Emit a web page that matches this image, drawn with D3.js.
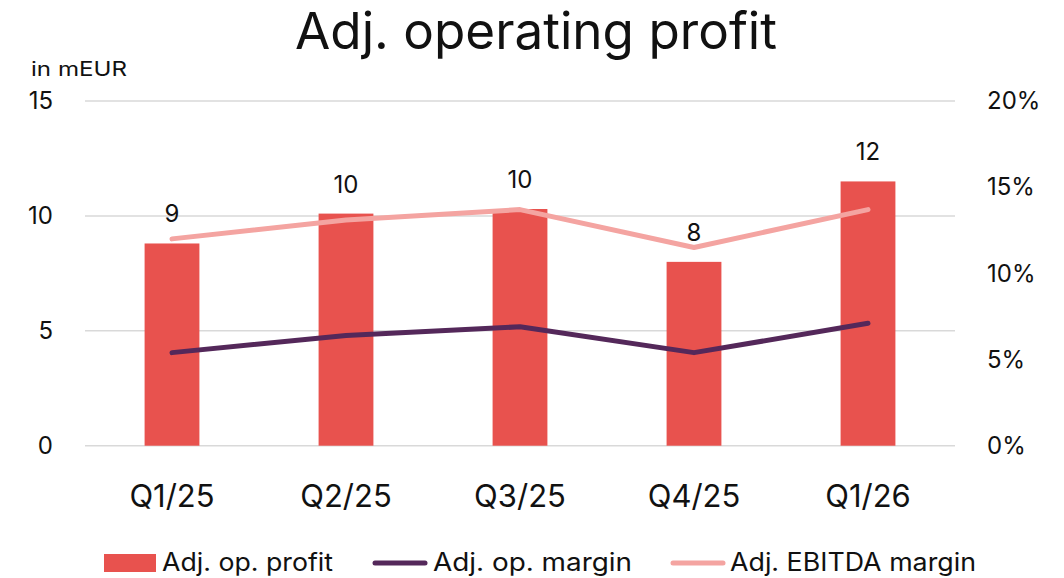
<!DOCTYPE html>
<html>
<head>
<meta charset="utf-8">
<script src="https://cdn.jsdelivr.net/npm/d3@7"></script>
<style>
  html, body { margin: 0; padding: 0; background: #fff; }
  svg { display: block; font-family: Inter, "Noto Sans", sans-serif; }
</style>
</head>
<body>
<svg id="chart" width="1064" height="578"></svg>
<script>
const categories = ["Q1/25", "Q2/25", "Q3/25", "Q4/25", "Q1/26"];
const opProfit = [8.8, 10.1, 10.3, 8.0, 11.5];
const opMargin = [5.4, 6.4, 6.9, 5.4, 7.1];
const ebitdaMargin = [12.0, 13.1, 13.7, 11.5, 13.7];
const leftTicks = [0, 5, 10, 15];
const rightTicks = [0, 5, 10, 15, 20];
const seriesNames = ["Adj. op. profit", "Adj. op. margin", "Adj. EBITDA margin"];
const title = "Adj. operating profit";
const unitLabel = "in mEUR";

const colors = { bar: "#E8524E", op: "#54285A", ebitda: "#F4A4A1", grid: "#d9d9d9", text: "#111" };

const svg = d3.select("#chart");
const plot = { left: 85, right: 955, top: 101, bottom: 445.7 };

const x = d3.scaleBand().domain(categories).range([plot.left, plot.right]).paddingInner(0.685).paddingOuter(0.3425);
const yL = d3.scaleLinear().domain([0, 15]).range([plot.bottom, plot.top]);
const yR = d3.scaleLinear().domain([0, 20]).range([plot.bottom, plot.top]);

// gridlines
svg.append("g").selectAll("line").data(leftTicks).join("line")
  .attr("x1", plot.left).attr("x2", plot.right)
  .attr("y1", d => yL(d)).attr("y2", d => yL(d))
  .attr("stroke", colors.grid).attr("stroke-width", 1.5);

// left axis
const axL = svg.append("g").attr("transform", `translate(${plot.left - 32},0)`)
  .call(d3.axisLeft(yL).tickValues(leftTicks).tickSize(0).tickPadding(0));
axL.select(".domain").remove();
axL.selectAll("text").attr("font-size", 24).attr("fill", colors.text).style("font-family", "Inter");

// right axis
const axR = svg.append("g").attr("transform", `translate(${plot.right + 32},0)`)
  .call(d3.axisRight(yR).tickValues(rightTicks).tickFormat(d => d + "%").tickSize(0).tickPadding(0));
axR.select(".domain").remove();
axR.selectAll("text").attr("font-size", 24).attr("fill", colors.text).style("font-family", "Inter");

// x axis
const axX = svg.append("g").attr("transform", `translate(0,${plot.bottom + 33})`)
  .call(d3.axisBottom(x).tickSize(0).tickPadding(0));
axX.select(".domain").remove();
axX.selectAll("text").attr("font-size", 31).attr("fill", colors.text).style("font-family", "Inter")
  .attr("dy", "0.9em");

// bars
svg.append("g").selectAll("rect").data(opProfit).join("rect")
  .attr("x", (d, i) => x(categories[i]))
  .attr("width", x.bandwidth())
  .attr("y", d => yL(d))
  .attr("height", d => yL(0) - yL(d))
  .attr("fill", colors.bar);

// lines
const cx = i => x(categories[i]) + x.bandwidth() / 2;
const lineGen = d3.line().x((d, i) => cx(i)).y(d => yR(d));
svg.append("path").datum(ebitdaMargin).attr("d", lineGen)
  .attr("fill", "none").attr("stroke", colors.ebitda).attr("stroke-width", 5)
  .attr("stroke-linecap", "round").attr("stroke-linejoin", "round");
svg.append("path").datum(opMargin).attr("d", lineGen)
  .attr("fill", "none").attr("stroke", colors.op).attr("stroke-width", 5)
  .attr("stroke-linecap", "round").attr("stroke-linejoin", "round");

// data labels
svg.append("g").selectAll("text").data(opProfit).join("text")
  .attr("x", (d, i) => cx(i))
  .attr("y", d => yL(d) - 21)
  .attr("text-anchor", "middle")
  .attr("font-size", 24).attr("fill", colors.text)
  .text(d => Math.round(d));

// title
svg.append("text").attr("x", 536).attr("y", 48.5).attr("text-anchor", "middle")
  .attr("font-size", 51).attr("fill", colors.text)
  .attr("textLength", 482).attr("lengthAdjust", "spacingAndGlyphs").text(title);

// unit label
svg.append("text").attr("x", 31).attr("y", 76).attr("font-size", 20).attr("fill", colors.text)
  .attr("textLength", 96).attr("lengthAdjust", "spacingAndGlyphs").text(unitLabel);

// legend
const lg = svg.append("g");
const legendItems = [
  { name: seriesNames[0], type: "rect", color: colors.bar, x: 104, w: 52, tx: 162, tw: 171 },
  { name: seriesNames[1], type: "line", color: colors.op, x: 373, w: 54, tx: 433, tw: 199 },
  { name: seriesNames[2], type: "line", color: colors.ebitda, x: 671, w: 54, tx: 730, tw: 246 }
];
legendItems.forEach(it => {
  if (it.type === "rect") {
    lg.append("rect").attr("x", it.x).attr("y", 554).attr("width", it.w).attr("height", 18).attr("fill", it.color);
  } else {
    lg.append("line").attr("x1", it.x + 2).attr("x2", it.x + it.w - 2).attr("y1", 563).attr("y2", 563)
      .attr("stroke", it.color).attr("stroke-width", 5).attr("stroke-linecap", "round");
  }
  lg.append("text").attr("x", it.tx).attr("y", 571).attr("font-size", 25).attr("fill", colors.text)
    .attr("textLength", it.tw).attr("lengthAdjust", "spacingAndGlyphs").text(it.name);
});
</script>
</body>
</html>
